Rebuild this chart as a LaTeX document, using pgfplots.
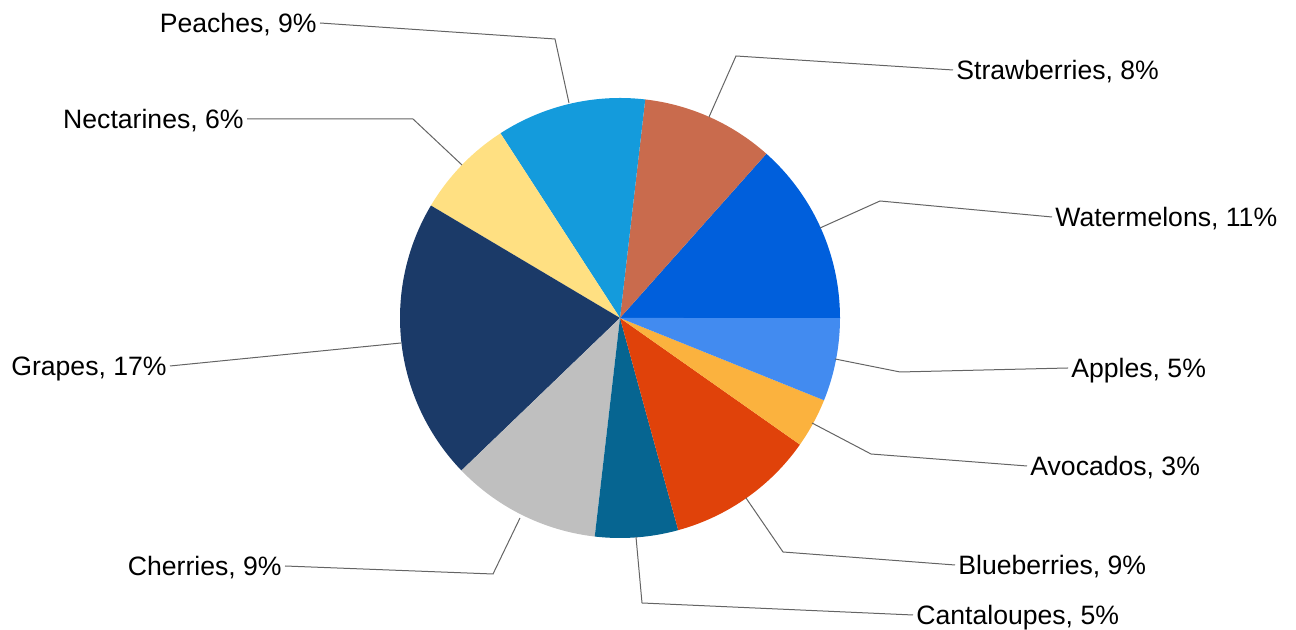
\documentclass[border=0pt]{standalone}
\usepackage{pgfplots}
\pgfplotsset{compat=1.18}
\usepackage{fontspec}
\setmainfont{Liberation Sans}

\definecolor{cWat}{RGB}{0,95,220}
\definecolor{cStr}{RGB}{201,107,77}
\definecolor{cPea}{RGB}{20,155,220}
\definecolor{cNec}{RGB}{255,224,130}
\definecolor{cGra}{RGB}{27,58,104}
\definecolor{cChe}{RGB}{191,191,191}
\definecolor{cCan}{RGB}{6,101,145}
\definecolor{cBlu}{RGB}{224,66,10}
\definecolor{cAvo}{RGB}{251,178,62}
\definecolor{cApp}{RGB}{66,139,240}
\definecolor{leader}{RGB}{100,100,100}

\tikzset{lab/.style={font=\fontsize{13.3}{16}\selectfont, text height=9.6pt, text depth=0pt, inner sep=1.5pt}}

% slice: colour, running total before it, value (total of all = 82)
\newcommand{\slice}[3]{%
  \addplot[fill=#1, draw=none, domain={#2*360/82}:{(#2+#3)*360/82}, samples=80, variable=\t]
    ({620+220*cos(\t)}, {312+220*sin(\t)}) -- (axis cs:620,312) -- cycle;}

\begin{document}
\begin{tikzpicture}
  \begin{axis}[
    x=0.5pt, y=0.5pt,
    xmin=0, xmax=1296, ymin=0, ymax=630,
    hide axis, clip=false,
  ]
    \addplot[draw=none, forget plot] coordinates {(0,0) (1296,630)};

    \slice{cWat}{0}{11}
    \slice{cStr}{11}{8}
    \slice{cPea}{19}{9}
    \slice{cNec}{28}{6}
    \slice{cGra}{34}{17}
    \slice{cChe}{51}{9}
    \slice{cCan}{60}{5}
    \slice{cBlu}{65}{9}
    \slice{cAvo}{74}{3}
    \slice{cApp}{77}{5}

    % leader lines
    \addplot[leader, line width=0.5pt] coordinates {(820,402) (880,429) (1052,413)};
    \addplot[leader, line width=0.5pt] coordinates {(709,513) (736,574) (953,560)};
    \addplot[leader, line width=0.5pt] coordinates {(569,527) (555,591) (320,607)};
    \addplot[leader, line width=0.5pt] coordinates {(462,465) (413,511) (247,511)};
    \addplot[leader, line width=0.5pt] coordinates {(401,287) (170,264)};
    \addplot[leader, line width=0.5pt] coordinates {(520,112) (493,56) (285,64)};
    \addplot[leader, line width=0.5pt] coordinates {(636,93) (642,27) (913,15)};
    \addplot[leader, line width=0.5pt] coordinates {(746,132) (783,78) (955,65)};
    \addplot[leader, line width=0.5pt] coordinates {(812,207) (871,176) (1027,164)};
    \addplot[leader, line width=0.5pt] coordinates {(835,271) (900,258) (1068,262)};

    \node[lab, anchor=west] at (axis cs:1052,413) {Watermelons, 11\%};
    \node[lab, anchor=west] at (axis cs:953,560) {Strawberries, 8\%};
    \node[lab, anchor=east] at (axis cs:320,607) {Peaches, 9\%};
    \node[lab, anchor=east] at (axis cs:247,511) {Nectarines, 6\%};
    \node[lab, anchor=east] at (axis cs:170,264) {Grapes, 17\%};
    \node[lab, anchor=east] at (axis cs:285,64) {Cherries, 9\%};
    \node[lab, anchor=west] at (axis cs:913,15) {Cantaloupes, 5\%};
    \node[lab, anchor=west] at (axis cs:955,65) {Blueberries, 9\%};
    \node[lab, anchor=west] at (axis cs:1027,164) {Avocados, 3\%};
    \node[lab, anchor=west] at (axis cs:1068,262) {Apples, 5\%};
  \end{axis}
\end{tikzpicture}
\end{document}
